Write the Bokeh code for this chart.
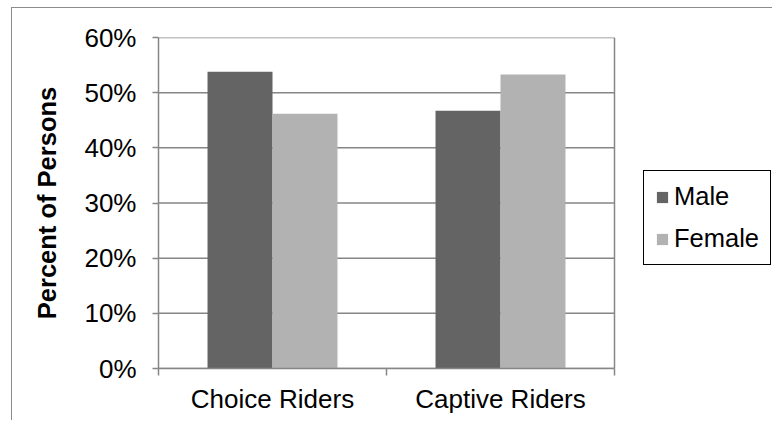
from bokeh.plotting import figure
from bokeh.models import (FixedTicker, Legend, LegendItem, Range1d,
                          ColumnDataSource, InlineStyleSheet)
from bokeh.transform import dodge
from bokeh.embed import file_html
from bokeh.resources import INLINE

# ---- data ----
categories = ["Choice Riders", "Captive Riders"]
series = ["Male", "Female"]
male = [53.8, 46.7]
female = [46.2, 53.3]
y_ticks = [0, 10, 20, 30, 40, 50, 60]
y_tick_labels = ["0%", "10%", "20%", "30%", "40%", "50%", "60%"]
y_title = "Percent of Persons"

# ---- styling / layout ----
FONT = "Liberation Sans"
GRAY = "#868686"
LW = 1.5
MALE_C = "#646464"
FEMALE_C = "#b2b2b2"
W, H = 772, 420
LEFT, TOP, BOTTOM = 158, 37, 52
PLOT_W = 456            # pixel width of the plotting box (data area)
FRAME_W = W - LEFT       # frame extends under the legend area

n = len(categories)
x_centers = [i + 0.5 for i in range(n)]
x_bounds = [float(i) for i in range(n + 1)]

src = ColumnDataSource(dict(x=x_centers, male=male, female=female))
grid_src = ColumnDataSource(dict(y=y_ticks, x0=[0] * len(y_ticks), x1=[n] * len(y_ticks)))

border_css = InlineStyleSheet(css="""
:host { position: relative; }
:host::after {
  content: ""; position: absolute; left: 11px; top: 7px; right: 0; bottom: 0;
  border-left: 1px solid #8c8c8c; border-top: 1px solid #8c8c8c;
  pointer-events: none; z-index: 5;
}
""")

p = figure(width=W, height=H, output_backend="svg", toolbar_location=None,
           x_range=Range1d(0, n * FRAME_W / PLOT_W),
           y_range=Range1d(y_ticks[0], y_ticks[-1]),
           min_border_left=LEFT, min_border_right=0, min_border_top=TOP,
           min_border_bottom=BOTTOM, stylesheets=[border_css])
p.background_fill_color = "white"
p.border_fill_color = "white"
p.outline_line_color = None
p.xgrid.grid_line_color = None
p.ygrid.grid_line_color = None

# horizontal gridlines and right edge of the plot box
p.segment(x0="x0", x1="x1", y0="y", y1="y", source=grid_src,
          line_color=GRAY, line_width=LW)
p.segment(x0=[n], x1=[n], y0=[y_ticks[0]], y1=[y_ticks[-1]],
          line_color=GRAY, line_width=LW)

bar_w = 0.285
r1 = p.vbar(x=dodge("x", -bar_w / 2), top="male", width=bar_w, source=src,
            fill_color=MALE_C, line_color=None)
r2 = p.vbar(x=dodge("x", bar_w / 2), top="female", width=bar_w, source=src,
            fill_color=FEMALE_C, line_color=None)

# x axis
xa = p.xaxis[0]
xa.bounds = (0, n)
xa.ticker = FixedTicker(ticks=x_centers, minor_ticks=x_bounds)
xa.major_label_overrides = {x: c for x, c in zip(x_centers, categories)}
xa.major_tick_out = 0
xa.major_tick_in = 0
xa.minor_tick_out = 7
xa.minor_tick_in = 0
xa.minor_tick_line_color = GRAY
xa.minor_tick_line_width = LW
xa.axis_line_color = GRAY
xa.axis_line_width = LW
xa.major_label_text_font = FONT
xa.major_label_text_font_size = "26px"
xa.major_label_text_color = "black"
xa.major_label_standoff = 8

# y axis
ya = p.yaxis[0]
ya.ticker = FixedTicker(ticks=y_ticks)
ya.major_label_overrides = {t: l for t, l in zip(y_ticks, y_tick_labels)}
ya.major_tick_out = 6
ya.major_tick_in = 0
ya.major_tick_line_color = GRAY
ya.major_tick_line_width = LW
ya.minor_tick_line_color = None
ya.axis_line_color = GRAY
ya.axis_line_width = LW
ya.major_label_text_font = FONT
ya.major_label_text_font_size = "26px"
ya.major_label_text_color = "black"
ya.major_label_standoff = 16
ya.axis_label = y_title
ya.axis_label_text_font = FONT
ya.axis_label_text_font_size = "25.5px"
ya.axis_label_text_font_style = "bold"
ya.axis_label_text_color = "black"
ya.axis_label_standoff = 20

# legend
legend = Legend(items=[LegendItem(label=series[0], renderers=[r1]),
                       LegendItem(label=series[1], renderers=[r2])],
                location=(485, 103), margin=0,
                border_line_color="black", border_line_width=1, border_line_alpha=1,
                background_fill_color="white", background_fill_alpha=1,
                label_text_font=FONT, label_text_font_size="25.5px",
                label_text_color="black",
                glyph_width=14, glyph_height=14, label_standoff=5,
                padding=11, spacing=13, label_height=28)
p.add_layout(legend)

open("out.html", "w").write(file_html(p, INLINE))
